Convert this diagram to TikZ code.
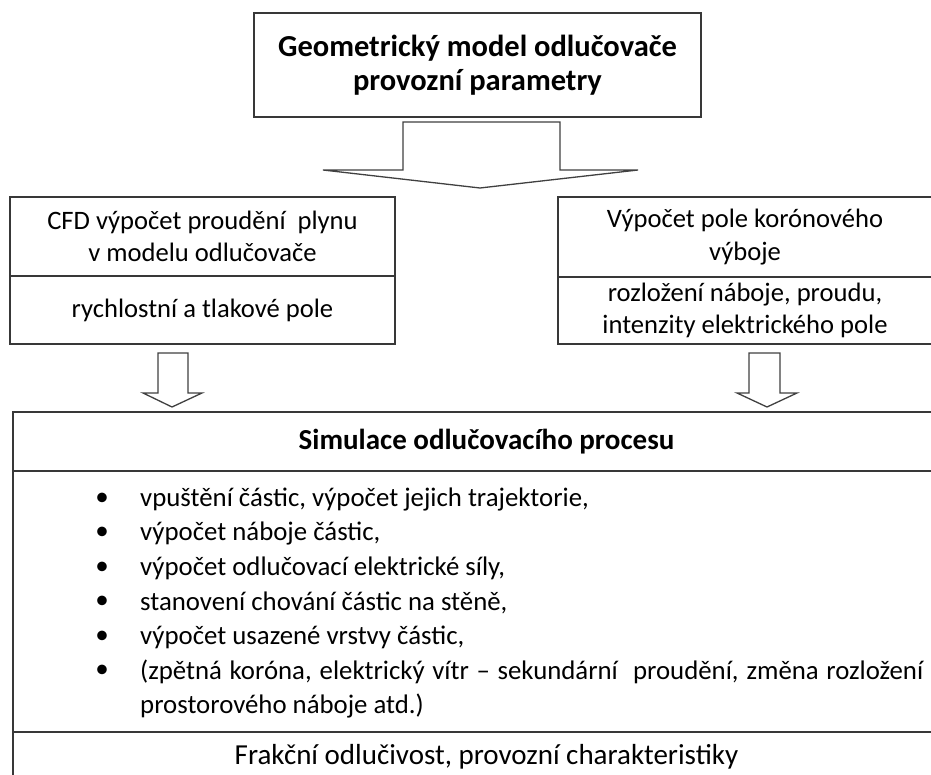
\documentclass[tikz,border=0pt]{standalone}
\usepackage{fontspec}
\setmainfont{Carlito}
\begin{document}
\begin{tikzpicture}[x=1pt,y=-1pt,
  frame/.style={draw=black!78, line width=1.6pt, inner sep=0pt},
  arrowshape/.style={draw=black!75, line width=1.3pt, line join=miter, fill=white},
  boxtext/.style={align=center, inner sep=0pt, font=\fontsize{26.6}{32.5}\selectfont},
  toptext/.style={align=center, inner sep=0pt, font=\bfseries\fontsize{30.5}{34}\selectfont},
  itemtext/.style={anchor=west, inner sep=0pt, font=\fontsize{26.8}{32}\selectfont},
  dot/.style={inner sep=0pt, font=\fontsize{27}{32}\selectfont}]
\useasboundingbox (0,0) rectangle (931,775);
\clip (0,0) rectangle (931,775);

% top box
\node[frame, minimum width=447pt, minimum height=104pt] (top) at (477.5,65) {};
\node[toptext] (toplabel) at (top.center) {Geometrický model odlučovače\\provozní parametry};

% left box
\node[frame, minimum width=385pt, minimum height=79pt] (cfd) at (202.5,236.5) {};
\node[boxtext] (cfdlabel) at (cfd.center) {CFD výpočet proudění\ \ plynu\\v modelu odlučovače};
\node[frame, minimum width=385pt, minimum height=68pt] (rych) at (202.5,310) {};
\node[boxtext] (rychlabel) at (rych.center) {rychlostní a tlakové pole};

% right box
\node[frame, minimum width=374pt, minimum height=80pt] (vyp) at (745,237) {};
\node[boxtext] (vyplabel) at (vyp.center) {Výpočet pole korónového\\výboje};
\node[frame, minimum width=374pt, minimum height=67pt] (rozl) at (745,310.5) {};
\node[boxtext] (rozllabel) at (rozl.center) {rozložení náboje, proudu,\\intenzity elektrického pole};

% bottom box
\node[frame, minimum width=947pt, minimum height=59pt] (sim) at (486.5,441.5) {};
\node[toptext, font=\bfseries\fontsize{29}{33}\selectfont] (simlabel) at (sim.center) {Simulace odlučovacího procesu};
\node[frame, minimum width=947pt, minimum height=261pt] (list) at (486.5,601.5) {};
\node[frame, minimum width=947pt, minimum height=50pt] (frak) at (486.5,757) {};
\node[boxtext, font=\fontsize{29}{33}\selectfont] (fraklabel) at (frak.center) {Frakční odlučivost, provozní charakteristiky};

% bullet items
\foreach \i/\t in {0/{vpuštění částic, výpočet jejich trajektorie,},
                   1/{výpočet náboje částic,},
                   2/{výpočet odlučovací elektrické síly,},
                   3/{stanovení chování částic na stěně,},
                   4/{výpočet usazené vrstvy částic,}}{
  \node[dot] (b\i) at (102,499+34.5*\i) {•};
  \node[itemtext] (t\i) at (140,499+34.5*\i) {\t};
}
\node[dot] (b5) at (102,671.5) {•};
\node[itemtext] (t5) at (140,671.5) {\makebox[783pt][s]{(zpětná koróna, elektrický vítr – sekundární\ \ proudění, změna rozložení}};
\node[itemtext] (t6) at (140,706) {prostorového náboje atd.)};

% block arrows
\draw[arrowshape] (403,122) -- (403,170) -- (323,170) -- (480,188) -- (638,170) -- (560,170) -- (560,122) -- cycle;
\draw[arrowshape] (158,353) -- (158,393) -- (143,393) -- (172,407) -- (202,393) -- (188,393) -- (188,353) -- cycle;
\draw[arrowshape] (749,353) -- (749,393) -- (737,393) -- (767,407) -- (797,393) -- (780,393) -- (780,353) -- cycle;
\end{tikzpicture}
\end{document}
